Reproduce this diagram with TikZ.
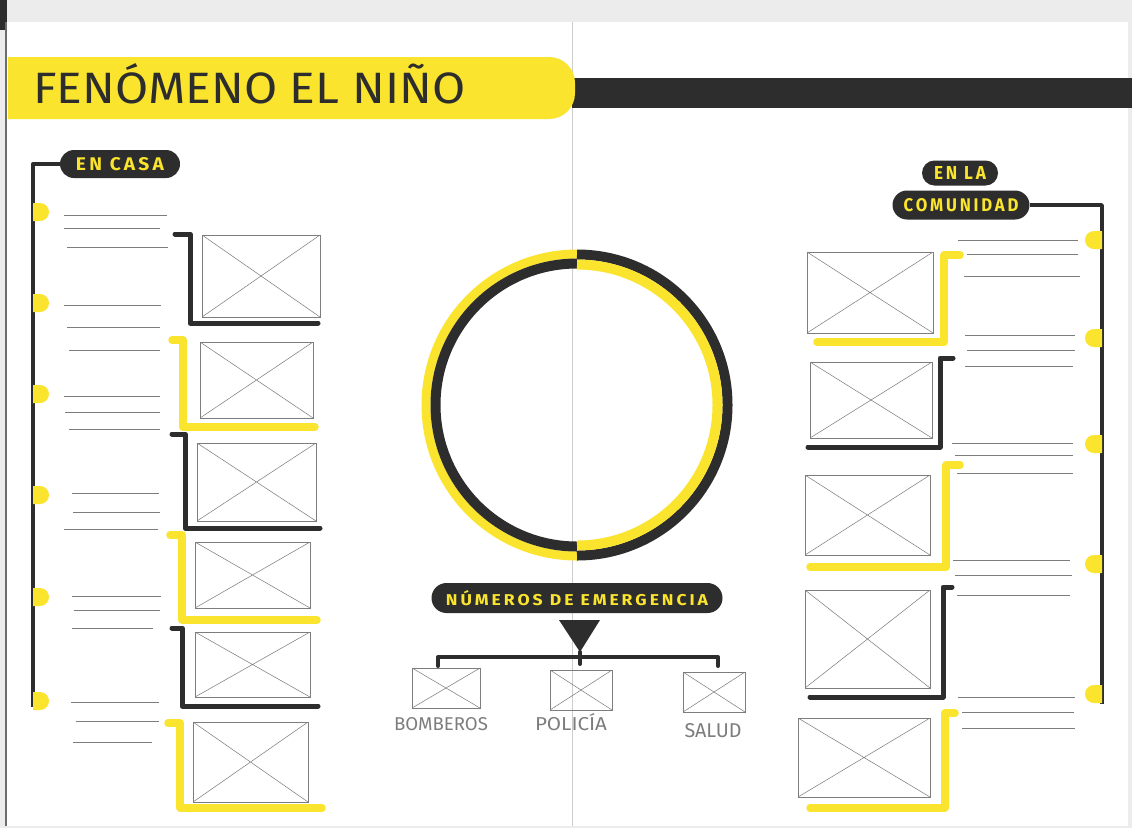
\documentclass[tikz,border=0pt]{standalone}
\usepackage{graphicx}
\usepackage{fontspec}
\setmainfont{Fira Sans}
\usetikzlibrary{shapes.misc,fit,calc}
\newlength\pxu \setlength\pxu{0.03cm}
\definecolor{yel}{RGB}{250,228,45}
\definecolor{ink}{RGB}{45,45,45}
\definecolor{pen}{RGB}{125,125,125}
\definecolor{scan}{RGB}{236,236,236}
\definecolor{fold}{RGB}{205,205,205}
\newcommand\fitbox[3]{\resizebox{#1\pxu}{#2\pxu}{#3}}
\begin{document}
\begin{tikzpicture}[x=0.03cm,y=-0.03cm,
  imgbox/.style={draw=pen, line width=0.55pt, inner sep=0pt,
    path picture={\draw[pen,line width=0.45pt]
      (path picture bounding box.north west) -- (path picture bounding box.south east)
      (path picture bounding box.south west) -- (path picture bounding box.north east);}},
  txtline/.style={draw=pen, line width=0.5pt},
  blkline/.style={draw=ink, line width=5\pxu, line cap=round, line join=round},
  yelline/.style={draw=yel, line width=7.5\pxu, line cap=round, line join=round},
  mainline/.style={draw=ink, line width=4\pxu, line join=round},
  pill/.style={rounded rectangle, fill=ink, text=yel, inner sep=0pt},
  handlbl/.style={text=pen, inner sep=0pt, anchor=base}
]
\useasboundingbox (0,0) rectangle (1132,828);
% scanned page
\fill[scan] (0,0) rectangle (1132,828);
\fill[white] (6,22) rectangle (1128,826);
\fill[ink] (0,0) rectangle (7,30);
\draw[ink!70, line width=1.2pt] (6,22) -- (6,826);
\draw[fold, line width=0.45pt] (572,22) -- (572,826);

% title
\fill[ink] (572,78) rectangle (1132,108);
\fill[yel] (8,57) [rounded corners=22pt] -- (575,57) -- (575,119) [sharp corners] -- (8,119) -- cycle;
\node[anchor=base west, inner sep=0pt, text=ink] (title) at (33,103)
  {\fitbox{432}{40}{FENÓMENO EL NIÑO}};

% ===== left column: EN CASA =====
\node[pill, minimum width=120\pxu, minimum height=28\pxu] (encasa) at (120,164)
  {\fitbox{88}{13}{\bfseries E\,N\, C\,A\,S\,A}};
\coordinate (lend) at (33,707);
\draw[mainline] (encasa.west) -| (lend);
\foreach \y in {212,303,394,495,597,701}
  \fill[yel] (33,\y-9) -- (40,\y-9) arc[start angle=-90, end angle=90, radius=9] -- (33,\y+9) -- cycle;
\foreach \y/\a/\b in {215/64/167, 228/64/160, 247/67/168,
                      305/64/161, 327/67/160, 350/69/160,
                      396/64/160, 412/65/160, 429/69/160,
                      493/72/159, 512/73/160, 529/64/158,
                      596/72/161, 610/74/160, 628/72/153,
                      702/71/159, 721/76/159, 742/73/152}
  \draw[txtline] (\a,\y) -- (\b,\y);

\node[imgbox, fit={(202,235) (320,317)}] (L1) {};
\node[imgbox, fit={(200,342) (313,418)}] (L2) {};
\node[imgbox, fit={(197,443) (316,521)}] (L3) {};
\node[imgbox, fit={(195,542) (310,608)}] (L4) {};
\node[imgbox, fit={(195,632) (310,697)}] (L5) {};
\node[imgbox, fit={(193,722) (308,802)}] (L6) {};
\draw[blkline] (175,234) -- (190,234) -- (190,323) -- (318,323);
\draw[yelline] (172,340) -- (183,340) -- (183,427) -- (315,427);
\draw[blkline] (172,434) -- (185,434) -- (185,528) -- (320,528);
\draw[yelline] (170,535) -- (182,535) -- (182,620) -- (317,620);
\draw[blkline] (172,628) -- (182,628) -- (182,706) -- (318,706);
\draw[yelline] (168,723) -- (180,723) -- (180,808) -- (322,808);

% ===== right column: EN LA COMUNIDAD =====
\node[pill, minimum width=76\pxu, minimum height=25\pxu] (enla) at (960,173)
  {\fitbox{52}{13}{\bfseries E\,N\, L\,A}};
\node[pill, minimum width=137\pxu, minimum height=29\pxu] (comunidad) at (961,205)
  {\fitbox{115}{13}{\bfseries C\,O\,M\,U\,N\,I\,D\,A\,D}};
\coordinate (rend) at (1102,704);
\draw[draw=ink, line width=3.5\pxu, line join=round] (comunidad.east) -| (rend);
\foreach \y in {240,338,444,564,694}
  \fill[yel] (1102,\y-9) -- (1094,\y-9) arc[start angle=-90, end angle=-270, radius=9] -- (1102,\y+9) -- cycle;
\foreach \y/\a/\b in {240/958/1078, 254/967/1078, 276/964/1080,
                      335/965/1075, 350/967/1075, 366/965/1073,
                      443/952/1073, 455/955/1073, 473/957/1073,
                      560/953/1070, 575/955/1072, 595/957/1070,
                      697/958/1075, 712/962/1074, 728/962/1075}
  \draw[txtline] (\a,\y) -- (\b,\y);

\node[imgbox, fit={(807,252) (933,333)}] (R1) {};
\node[imgbox, fit={(810,362) (932,438)}] (R2) {};
\node[imgbox, fit={(805,475) (930,555)}] (R3) {};
\node[imgbox, fit={(805,590) (930,688)}] (R4) {};
\node[imgbox, fit={(798,718) (930,797)}] (R5) {};
\draw[yelline] (960,255) -- (944,255) -- (944,342) -- (817,342);
\draw[blkline] (953,358) -- (940,358) -- (940,447) -- (808,447);
\draw[yelline] (960,465) -- (946,465) -- (946,567) -- (810,567);
\draw[blkline] (952,587) -- (943,587) -- (943,697) -- (810,697);
\draw[yelline] (955,713) -- (945,713) -- (945,808) -- (810,808);

% ===== central ring =====
\coordinate (ctr) at (577,405);
\draw[yel, line width=9\pxu] (ctr) ++(90:151) arc[start angle=90, end angle=270, radius=151];
\draw[ink, line width=10\pxu] (ctr) ++(90:141.5) arc[start angle=90, end angle=270, radius=141.5];
\draw[ink, line width=10\pxu] (ctr) ++(-90:150.5) arc[start angle=-90, end angle=90, radius=150.5];
\draw[yel, line width=10\pxu] (ctr) ++(-90:140.5) arc[start angle=-90, end angle=90, radius=140.5];

% ===== emergency numbers =====
\node[pill, minimum width=291\pxu, minimum height=30\pxu] (numeros) at (577,598)
  {\fitbox{262}{15}{\bfseries N\,Ú\,M\,E\,R\,O\,S\, D\,E\, E\,M\,E\,R\,G\,E\,N\,C\,I\,A}};
\coordinate (tri) at (580,652);
\fill[ink] (559,620) -- (600,620) -- (tri) -- cycle;
\node[imgbox, fit={(412,668) (480,708)}] (bomb) {};
\node[imgbox, fit={(550,670) (612,710)}] (poli) {};
\node[imgbox, fit={(683,672) (745,712)}] (salud) {};
\draw[mainline, line cap=round] (438,666) -- (438,657) -- (718,657) -- (718,666);
\draw[mainline, line cap=round] (tri) -- (580,664);
\node[handlbl] (lbomb) at (441,730) {\fitbox{94}{13}{BOMBEROS}};
\node[handlbl] (lpoli) at (571,730) {\fitbox{72}{17}{POLICÍA}};
\node[handlbl] (lsalud) at (713,737) {\fitbox{57}{14}{SALUD}};
\end{tikzpicture}
\end{document}
